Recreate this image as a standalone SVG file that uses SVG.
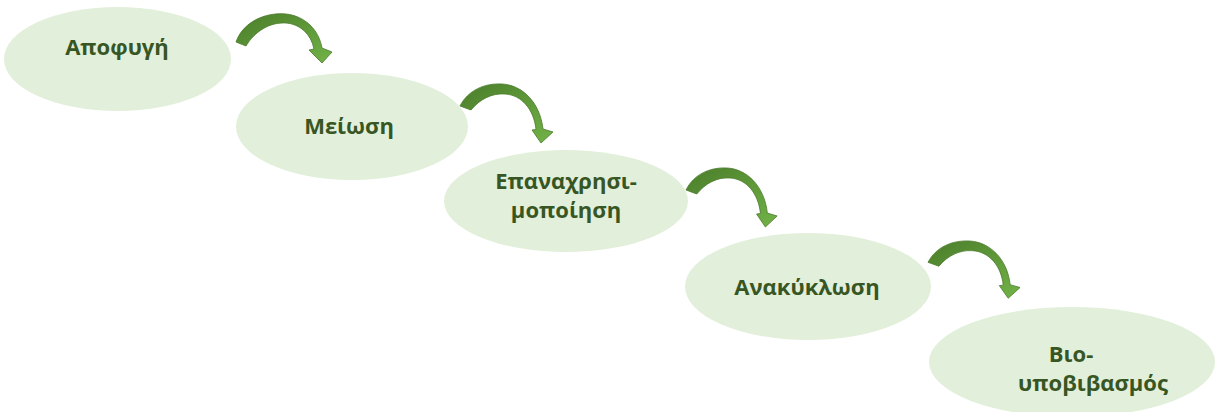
<svg xmlns="http://www.w3.org/2000/svg" width="1215" height="412" viewBox="0 0 1215 412">
  <style>
    .step { fill: #e2efda; }
    .label { font-family: "Open Sans", "Liberation Sans", sans-serif; font-weight: 700; font-size: 22px; fill: #375623; text-anchor: middle; }
    .arrow { fill: url(#arrowFill); stroke: #4a7a2b; stroke-width: 0.8; stroke-linejoin: round; }
  </style>
  <defs>
    <linearGradient id="arrowFill" x1="0" y1="0" x2="1" y2="1">
      <stop offset="0" stop-color="#4a7d2a"/>
      <stop offset="1" stop-color="#72b347"/>
    </linearGradient>
    <!-- curved step arrow, drawn in a local box of about 93 x 59 -->
    <path id="curveArrow" d="M0,22 C8,6 25,-1 42,0 C62,1 80,18 83,45 L93,48 L81,59 L72,46 L76,45.5 C74,26 62,11 45,10 C32,9 20,15 11,26 Z"/>
  </defs>

  <g id="step-avoid">
    <ellipse class="step" cx="117.5" cy="59" rx="113.5" ry="52"/>
    <text class="label" x="117" y="55">Αποφυγή</text>
  </g>

  <g id="step-reduce">
    <ellipse class="step" cx="352" cy="126.5" rx="116" ry="53.5"/>
    <text class="label" x="349" y="134">Μείωση</text>
  </g>

  <g id="step-reuse">
    <ellipse class="step" cx="566" cy="201" rx="122" ry="51"/>
    <text class="label" x="566" y="189">Επαναχρησι-</text>
    <text class="label" x="566" y="218">μοποίηση</text>
  </g>

  <g id="step-recycle">
    <ellipse class="step" cx="808" cy="286.5" rx="123" ry="53.5"/>
    <text class="label" x="807" y="295">Ανακύκλωση</text>
  </g>

  <g id="step-biodegrade">
    <ellipse class="step" cx="1072" cy="362" rx="143" ry="55"/>
    <text class="label" x="1071" y="362">Βιο-</text>
    <text class="label" x="1093" y="391">υποβιβασμός</text>
  </g>

  <g id="connectors">
    <path class="arrow" d="M236,42 C243,22 265,12 286,14 C305,16 319,30 322,48 L332,52 L322,63 L309,50 L314,49 C311,34 300,24 286,23 C270,22 255,31 246,46 Z"/>
    <use class="arrow" href="#curveArrow" transform="translate(460,84)"/>
    <use class="arrow" href="#curveArrow" transform="translate(686,168) scale(0.98,1.0)"/>
    <use class="arrow" href="#curveArrow" transform="translate(928,241) scale(0.99,0.97)"/>
  </g>
</svg>
